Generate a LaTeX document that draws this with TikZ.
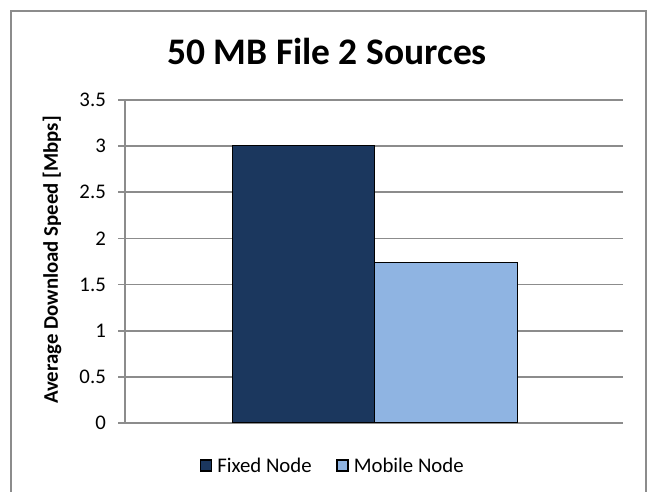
\documentclass[tikz,border=0pt]{standalone}
\usepackage{fontspec}
\setmainfont{Carlito}
\usetikzlibrary{positioning}
\definecolor{navybar}{RGB}{27,55,94}
\definecolor{skybar}{RGB}{143,180,226}
\definecolor{gridgray}{RGB}{140,140,140}
\tikzstyle{bar} = [rectangle, draw=black, line width=1.4pt, anchor=south west, inner sep=0pt, minimum width=142pt]
\tikzstyle{key} = [rectangle, draw=black, line width=1.2pt, minimum size=11pt, inner sep=0pt]
\tikzstyle{keytext} = [inner sep=0pt, font=\fontsize{20.8}{25}\selectfont]
\tikzstyle{ticklabel} = [anchor=east, inner sep=0pt, font=\fontsize{20.8}{25}\selectfont]
\tikzstyle{gridline} = [draw=gridgray, line width=1.6pt]

\begin{document}
\begin{tikzpicture}[x=1pt, y=-1pt]
\useasboundingbox (0,0) rectangle (649,492);

% Frame and title
\draw[gridgray, line width=1.5pt] (11,492) -- (11,11) -- (646,11) -- (646,492);
\node (title) [anchor=base, inner sep=0pt, font=\bfseries\fontsize{37.5}{42}\selectfont] at (327,65) {50 MB File 2 Sources};

% Grid, ticks and values
\foreach \i/\val in {0/0, 1/0.5, 2/1, 3/1.5, 4/2, 5/2.5, 6/3, 7/3.5} {
  \draw[gridline] (118,{423-46.14*\i}) -- (623,{423-46.14*\i});
  \node (tick\i) [ticklabel] at (106,{423-46.14*\i}) {\val};
}
\draw[gridline] (125,100) -- (125,423);

\node (ylabel) [rotate=90, inner sep=0pt, font=\bfseries\fontsize{20.8}{25}\selectfont] at (52,260) {Average Download Speed [Mbps]};

% Bars
\node (fixedbar) [bar, fill=navybar, minimum height=276.8pt] at (232,423) {};
\node (mobilebar) [bar, fill=skybar, minimum height=160pt, minimum width=143pt] at (374,423) {};

% Legend
\node (fixedkey) [key, fill=navybar] at (206,465.5) {};
\node (fixedtxt) [keytext, right=5pt of fixedkey] {Fixed Node};
\node (mobilekey) [key, fill=skybar] at (342.5,465.5) {};
\node (mobiletxt) [keytext, right=5pt of mobilekey] {Mobile Node};

\end{tikzpicture}
\end{document}
